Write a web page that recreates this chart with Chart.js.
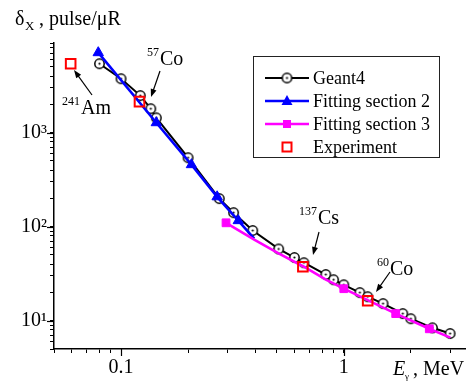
<!DOCTYPE html>
<html>
<head>
<meta charset="utf-8">
<script src="https://cdn.jsdelivr.net/npm/chart.js@4"></script>
<style>
  body { margin: 0; background: #fff; }
</style>
</head>
<body>
<canvas id="myChart" width="475" height="383"></canvas>
<script>
// Geant4 simulation (energy MeV, sensitivity pulse/uR)
var geantE = [0.08, 0.1, 0.122, 0.136, 0.144, 0.2, 0.276, 0.32, 0.39, 0.51, 0.6, 0.662, 0.83, 0.9, 1.0, 1.18, 1.28, 1.5, 1.84, 2.0, 2.5, 3.0];
var geantD = [5420, 3750, 2480, 1800, 1440, 542, 199, 141, 91, 58, 47, 41.4, 31, 27.3, 24.1, 19.9, 18, 15.2, 11.9, 10.5, 8.4, 7.3];

// fitting section 2
var fit2E = [0.079, 0.144, 0.207, 0.27, 0.336, 0.396];
var fit2D = [7100, 1277, 457, 208, 116, 74.5];

// fitting section 3
var fit3E = [0.296, 0.396, 0.512, 0.662, 0.831, 1.0, 1.71, 2.42, 3.01];
var fit3D = [110, 72.7, 51.6, 37.5, 27.3, 21.9, 11.9, 8.2, 6.6];

// experiment
var expE = [0.0594, 0.121, 0.655, 1.28];
var expD = [5420, 2140, 37.5, 16.3];

var xTicks = [0.05, 0.06, 0.07, 0.08, 0.09, 0.1, 0.2, 0.3, 0.4, 0.5, 0.6, 0.7, 0.8, 0.9, 1, 2, 3];
var xLabels = { 0.1: "0.1", 1: "1" };
var yTicks = [5, 6, 7, 8, 9, 10, 20, 30, 40, 50, 60, 70, 80, 90, 100, 200, 300, 400, 500, 600, 700, 800, 900, 1000, 2000, 3000, 4000, 5000, 6000, 7000, 8000, 9000];
var yLabels = { 10: "10\u00b9", 100: "10\u00b2", 1000: "10\u00b3" };

var FONT = "Liberation Serif";

function toXY(xs, ys) {
  return xs.map(function (x, i) { return { x: x, y: ys[i] }; });
}

// open circle with a dot, used for Geant4 points
var circ = document.createElement("canvas");
circ.width = 13; circ.height = 13;
(function () {
  var c = circ.getContext("2d");
  c.beginPath();
  c.arc(6.5, 6.5, 4.7, 0, Math.PI * 2);
  c.fillStyle = "#fff";
  c.fill();
  c.lineWidth = 1.5;
  c.strokeStyle = "#000";
  c.stroke();
  c.beginPath();
  c.arc(6.5, 6.5, 1.1, 0, Math.PI * 2);
  c.fillStyle = "#000";
  c.fill();
})();

function arrow(c, x1, y1, x2, y2) {
  var a = Math.atan2(y2 - y1, x2 - x1);
  var L = 8, W = 3;
  c.beginPath();
  c.moveTo(x1, y1);
  c.lineTo(x2 - L * 0.7 * Math.cos(a), y2 - L * 0.7 * Math.sin(a));
  c.stroke();
  c.beginPath();
  c.moveTo(x2, y2);
  c.lineTo(x2 - L * Math.cos(a) + W * Math.sin(a), y2 - L * Math.sin(a) - W * Math.cos(a));
  c.lineTo(x2 - L * Math.cos(a) - W * Math.sin(a), y2 - L * Math.sin(a) + W * Math.cos(a));
  c.closePath();
  c.fill();
}

function isotope(c, sup, name, x, y) {
  c.font = "12px '" + FONT + "'";
  c.fillText(sup, x, y - 9);
  var w = c.measureText(sup).width;
  c.font = "20px '" + FONT + "'";
  c.fillText(name, x + w + 1, y);
}

function marker(c, ds, x, y) {
  c.save();
  if (ds.pointStyle === circ) {
    c.drawImage(circ, x - 6.5, y - 6.5);
  } else if (ds.pointStyle === "triangle") {
    c.fillStyle = ds.pointBackgroundColor;
    c.beginPath();
    c.moveTo(x, y - 6);
    c.lineTo(x + 5.5, y + 4);
    c.lineTo(x - 5.5, y + 4);
    c.closePath();
    c.fill();
  } else if (ds.pointStyle === "rect") {
    var s = ds.legendSide;
    if (ds.pointBackgroundColor !== "transparent") {
      c.fillStyle = ds.pointBackgroundColor;
      c.fillRect(x - s / 2, y - s / 2, s, s);
    } else {
      c.strokeStyle = ds.pointBorderColor;
      c.lineWidth = ds.pointBorderWidth;
      c.strokeRect(x - s / 2, y - s / 2, s, s);
    }
  }
  c.restore();
}

var overlay = {
  id: "overlay",
  afterDraw: function (chart) {
    var c = chart.ctx;
    var xs = chart.scales.x, ys = chart.scales.y;
    c.save();
    c.fillStyle = "#000";
    c.strokeStyle = "#000";
    c.textBaseline = "alphabetic";
    c.textAlign = "left";

    // longer marks for the decades
    c.lineWidth = 1.2;
    [0.1, 1].forEach(function (v) {
      var px = Math.round(xs.getPixelForValue(v)) + 0.5;
      c.beginPath();
      c.moveTo(px, xs.top);
      c.lineTo(px, xs.top + 7);
      c.stroke();
    });
    [10, 100, 1000].forEach(function (v) {
      var py = Math.round(ys.getPixelForValue(v)) + 0.5;
      c.beginPath();
      c.moveTo(ys.right, py);
      c.lineTo(ys.right - 7, py);
      c.stroke();
    });

    // y axis title
    c.font = "20px '" + FONT + "'";
    c.fillText("\u03b4", 15, 25);
    c.font = "13px '" + FONT + "'";
    c.fillText("X", 25, 30);
    c.font = "20px '" + FONT + "'";
    c.fillText(" , pulse/\u03bcR", 34, 25);

    // x axis title
    c.font = "italic 20px '" + FONT + "'";
    c.fillText("E", 393, 375);
    c.font = "9px '" + FONT + "'";
    c.fillText("\u03b3", 405, 379);
    c.font = "20px '" + FONT + "'";
    c.fillText(" , MeV", 408, 375);

    // isotope labels and arrows
    isotope(c, "241", "Am", 62, 114);
    isotope(c, "57", "Co", 147, 65);
    isotope(c, "137", "Cs", 299, 224);
    isotope(c, "60", "Co", 377, 275);
    c.lineWidth = 1.2;
    arrow(c, 92, 95, 74, 70);
    arrow(c, 160, 71, 151, 97);
    arrow(c, 319, 232, 313, 255);
    arrow(c, 390, 272, 376, 292);

    // legend
    var lx = 253, ly = 56, lw = 186, lh = 101;
    c.fillStyle = "#fff";
    c.fillRect(lx, ly, lw, lh);
    c.lineWidth = 1;
    c.strokeStyle = "#222";
    c.strokeRect(lx + 0.5, ly + 0.5, lw, lh);
    var rows = [78, 101, 124, 147];
    chart.data.datasets.forEach(function (ds, i) {
      var y = rows[i];
      if (ds.showLine) {
        c.strokeStyle = ds.borderColor;
        c.lineWidth = ds.borderWidth;
        c.beginPath();
        c.moveTo(265, y);
        c.lineTo(309, y);
        c.stroke();
      }
      marker(c, ds, 287, y);
      c.fillStyle = "#000";
      c.font = "18px '" + FONT + "'";
      c.textBaseline = "middle";
      c.fillText(ds.label, 313, y + 1);
    });
    c.restore();
  }
};

var ctx = document.getElementById("myChart");
new Chart(ctx, {
  type: "scatter",
  data: {
    datasets: [
      {
        label: "Geant4",
        data: toXY(geantE, geantD),
        showLine: true,
        borderColor: "#000",
        borderWidth: 2,
        pointStyle: circ,
        order: 3
      },
      {
        label: "Fitting section 2",
        data: toXY(fit2E, fit2D),
        showLine: true,
        borderColor: "#0000ff",
        borderWidth: 2.6,
        pointStyle: "triangle",
        pointBackgroundColor: "#0000ff",
        pointBorderColor: "#0000ff",
        pointBorderWidth: 1,
        pointRadius: [6, 6, 6, 6, 6, 0],
        order: 2
      },
      {
        label: "Fitting section 3",
        data: toXY(fit3E, fit3D),
        showLine: true,
        borderColor: "#ff00ff",
        borderWidth: 2.6,
        pointStyle: "rect",
        pointBackgroundColor: "#ff00ff",
        pointBorderColor: "#ff00ff",
        pointBorderWidth: 1,
        pointRadius: [5.5, 0, 0, 0, 0, 5.5, 5.5, 5.5, 0],
        legendSide: 8,
        order: 1
      },
      {
        label: "Experiment",
        data: toXY(expE, expD),
        showLine: false,
        pointStyle: "rect",
        pointBackgroundColor: "transparent",
        pointBorderColor: "#ff0000",
        pointBorderWidth: 2,
        pointRadius: 6.8,
        legendSide: 9,
        order: 0
      }
    ]
  },
  options: {
    responsive: false,
    animation: false,
    devicePixelRatio: 1,
    layout: { padding: { top: 43, right: 10, left: 0, bottom: 0 } },
    plugins: { legend: { display: false }, tooltip: { enabled: false } },
    scales: {
      x: {
        type: "logarithmic",
        min: 0.05,
        max: 3.5,
        border: { color: "#000", width: 1.5 },
        grid: { drawOnChartArea: false, tickColor: "#000", tickLength: 4, tickWidth: 1 },
        ticks: {
          autoSkip: false,
          maxRotation: 0,
          padding: 3,
          color: "#000",
          font: { family: FONT, size: 20 },
          callback: function (v) { return xLabels[v] || ""; }
        },
        afterBuildTicks: function (axis) {
          axis.ticks = xTicks.map(function (v) { return { value: v }; });
        },
        afterFit: function (s) { s.height = 34; }
      },
      y: {
        type: "logarithmic",
        min: 5,
        max: 9000,
        border: { color: "#000", width: 1.5 },
        grid: { drawOnChartArea: false, tickColor: "#000", tickLength: 4, tickWidth: 1 },
        ticks: {
          autoSkip: false,
          padding: 3,
          color: "#000",
          font: { family: FONT, size: 20 },
          callback: function (v) { return yLabels[v] || ""; }
        },
        afterBuildTicks: function (axis) {
          axis.ticks = yTicks.map(function (v) { return { value: v }; });
        },
        afterFit: function (s) { s.width = 54; }
      }
    }
  },
  plugins: [overlay]
});
</script>
</body>
</html>
